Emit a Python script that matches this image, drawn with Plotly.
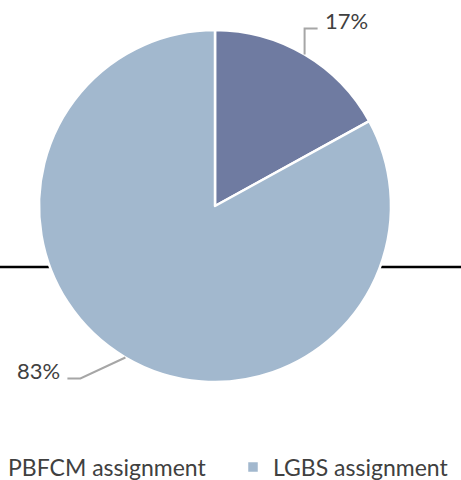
import math
import plotly.graph_objects as go

labels = ["PBFCM assignment", "LGBS assignment"]
values = [17, 83]
colors = ["#6f7ba1", "#a2b8ce"]
label_texts = ["17%", "83%"]

VW, H = 461, 480             # visible window
OX = 32                      # part of the figure hidden left of the window (first legend swatch)
RX = 70                      # spare room right of the window so the legend stays on one row
W = VW + OX + RX             # full figure width
MB = 50                      # bottom margin (legend lives below plot area)
PH = H - MB                  # plot-area height
cx, cy, R = 215, 206, 176    # pie centre / radius in window px

def px2paper(x, y):
    return (x + OX) / W, 1 - y / PH

fig = go.Figure(go.Pie(
    labels=labels, values=values, sort=False, direction="clockwise", rotation=0,
    marker=dict(colors=colors, line=dict(color="white", width=2.5)),
    textinfo="none", hoverinfo="label+percent",
    domain=dict(x=[(cx - R + OX) / W, (cx + R + OX) / W],
                y=[1 - (cy + R) / PH, 1 - (cy - R) / PH]),
))

# leader-line styling: elbow offset from slice edge, horizontal run, text side
leader_style = [((0, -26), 13, "left"), ((-45, 21), -13, "right")]

total = sum(values)
cum = 0
shapes = []
annotations = []
for v, txt, (elb, run, side) in zip(values, label_texts, leader_style):
    mid = (cum + v / 2) / total * 2 * math.pi
    cum += v
    ex, ey = cx + R * math.sin(mid), cy - R * math.cos(mid)
    x1, y1 = ex + elb[0], ey + elb[1]
    x2, y2 = x1 + run, y1
    pts = [px2paper(ex, ey), px2paper(x1, y1), px2paper(x2, y2)]
    path = "M {} {} L {} {} L {} {}".format(*[c for p in pts for c in p])
    shapes.append(dict(type="path", xref="paper", yref="paper", path=path,
                       line=dict(color="#a6a6a6", width=2)))
    tx = x2 + (5 if side == "left" else -5)
    tpx, tpy = px2paper(tx, y2 - 8)
    annotations.append(dict(x=tpx, y=tpy, xref="paper", yref="paper", text=txt,
                            showarrow=False, xanchor=side, yanchor="middle",
                            font=dict(size=22, color="#404040")))

x0l, _ = px2paper(0, 0)
x1l, _ = px2paper(VW, 0)
shapes.append(dict(type="line", xref="paper", yref="paper", x0=x0l, x1=x1l,
                   y0=1 - 267 / PH, y1=1 - 267 / PH, layer="below",
                   line=dict(color="black", width=2.5)))

fig.update_layout(
    width=W, height=H,
    margin=dict(l=0, r=0, t=0, b=MB, autoexpand=False),
    paper_bgcolor="white", plot_bgcolor="white",
    font=dict(family="Lato, 'Open Sans', sans-serif", color="#404040"),
    shapes=shapes, annotations=annotations,
    showlegend=True,
    legend=dict(orientation="h", x=0, xanchor="left",
                y=-(467 - PH) / PH, yanchor="middle", entrywidth=220,
                font=dict(size=23, color="#404040"), traceorder="normal"),
)

fig.write_html(
    "out.html",
    config={"displayModeBar": False},
    post_script=("document.documentElement.style.overflow='hidden';"
                 "document.body.style.margin='0';"
                 "document.body.style.marginLeft='-%dpx';" % OX),
)
